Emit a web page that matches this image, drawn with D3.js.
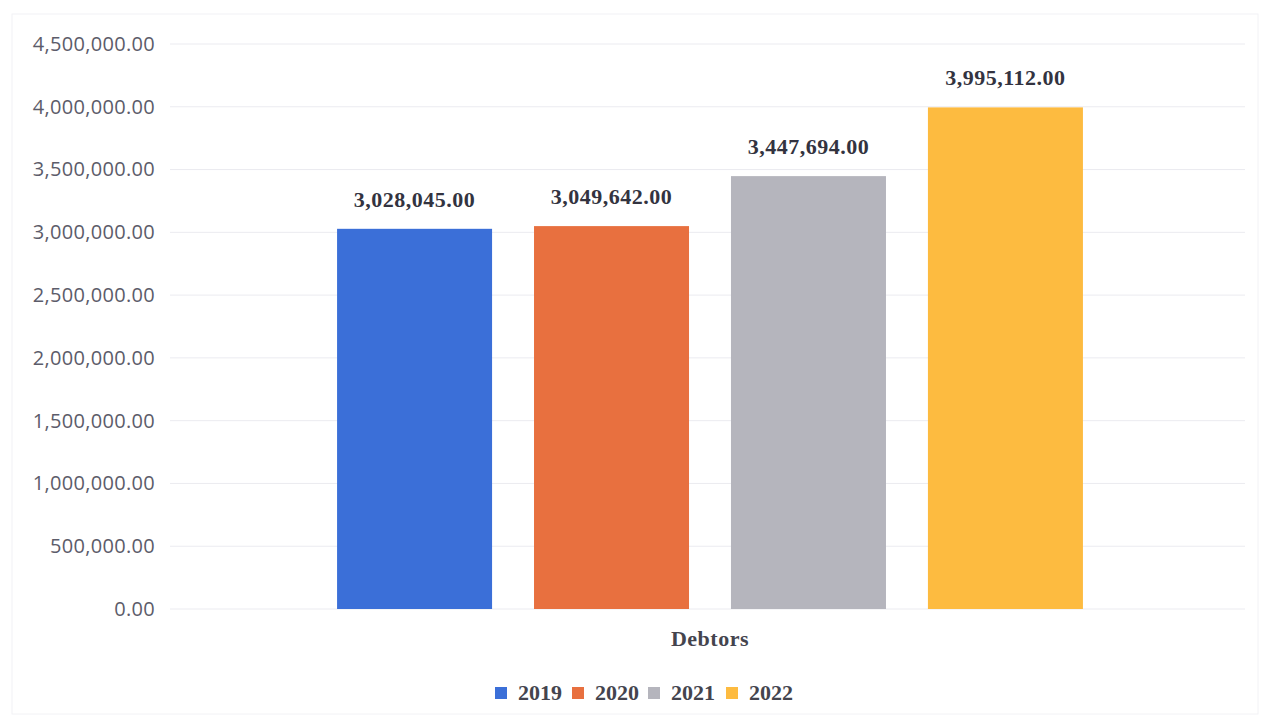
<!DOCTYPE html>
<html><head><meta charset="utf-8">
<script src="https://cdn.jsdelivr.net/npm/d3@7"></script>
<style>html,body{margin:0;padding:0;background:#fff;}</style>
</head><body>
<svg id="chart" width="1268" height="721"></svg>
<script>
const categories = ["Debtors"];
const years = ["2019", "2020", "2021", "2022"];
const values = [3028045, 3049642, 3447694, 3995112];
const colors = ["#3b6fd8", "#e8703f", "#b5b5bd", "#fdbb40"];
const yTicks = [0, 500000, 1000000, 1500000, 2000000, 2500000, 3000000, 3500000, 4000000, 4500000];

const svg = d3.select("#chart");
const plotLeft = 175, plotRight = 1245, plotTop = 44, plotBottom = 609;

// faint frame
svg.append("rect").attr("x", 12).attr("y", 14).attr("width", 1246).attr("height", 700)
  .attr("fill", "none").attr("stroke", "#f2f2f5").attr("stroke-width", 1);

const y = d3.scaleLinear().domain([0, 4500000]).range([plotBottom, plotTop]);
const x0 = d3.scaleBand().domain(categories).range([plotLeft, plotRight]).paddingInner(0).paddingOuter(0.15);
const x1 = d3.scaleBand().domain(years).range([0, x0.bandwidth()]).paddingInner(0.213).paddingOuter(0.196);

// gridlines
svg.append("g").selectAll("line").data(yTicks).join("line")
  .attr("x1", plotLeft - 5).attr("x2", plotRight)
  .attr("y1", d => y(d)).attr("y2", d => y(d))
  .attr("stroke", "#ebebf0").attr("stroke-width", 1);

// y axis
const fmt = d3.format(",.2f");
const yAxis = d3.axisLeft(y).tickValues(yTicks).tickFormat(fmt).tickSize(0).tickPadding(0);
const ga = svg.append("g").attr("transform", `translate(155,0)`).call(yAxis);
ga.select(".domain").remove();
ga.selectAll("text").attr("font-family", "Open Sans").attr("font-size", 20)
  .attr("letter-spacing", 0.3).attr("fill", "#5c5c6a");

// bars
const data = years.map((yr, i) => ({ cat: categories[0], year: yr, value: values[i], color: colors[i] }));
const g = svg.append("g");
g.selectAll("rect").data(data).join("rect")
  .attr("x", d => x0(d.cat) + x1(d.year))
  .attr("y", d => y(d.value))
  .attr("width", x1.bandwidth())
  .attr("height", d => y(0) - y(d.value))
  .attr("fill", d => d.color);

// data labels
g.selectAll("text.lbl").data(data).join("text")
  .attr("class", "lbl")
  .attr("x", d => x0(d.cat) + x1(d.year) + x1.bandwidth() / 2)
  .attr("y", d => y(d.value) - 22)
  .attr("text-anchor", "middle")
  .attr("font-family", "Liberation Serif").attr("font-weight", "bold").attr("font-size", 22)
  .attr("letter-spacing", 0.5)
  .attr("fill", "#333340")
  .text(d => fmt(d.value));

// category label
svg.selectAll("text.cat").data(categories).join("text")
  .attr("class", "cat")
  .attr("x", d => x0(d) + x0.bandwidth() / 2)
  .attr("y", 646)
  .attr("text-anchor", "middle")
  .attr("font-family", "Liberation Serif").attr("font-weight", "bold").attr("font-size", 22)
  .attr("letter-spacing", 0.5)
  .attr("fill", "#44444e")
  .text(d => d);

// legend
const legSq = [495, 572, 648, 726];
const legTx = [518, 595, 671, 749];
const lg = svg.append("g");
years.forEach((yr, i) => {
  lg.append("rect").attr("x", legSq[i]).attr("y", 687).attr("width", 12).attr("height", 12).attr("fill", colors[i]);
  lg.append("text").attr("x", legTx[i]).attr("y", 700)
    .attr("font-family", "Liberation Serif").attr("font-weight", "bold").attr("font-size", 22)
    .attr("fill", "#44444e").text(yr);
});
</script>
</body></html>
